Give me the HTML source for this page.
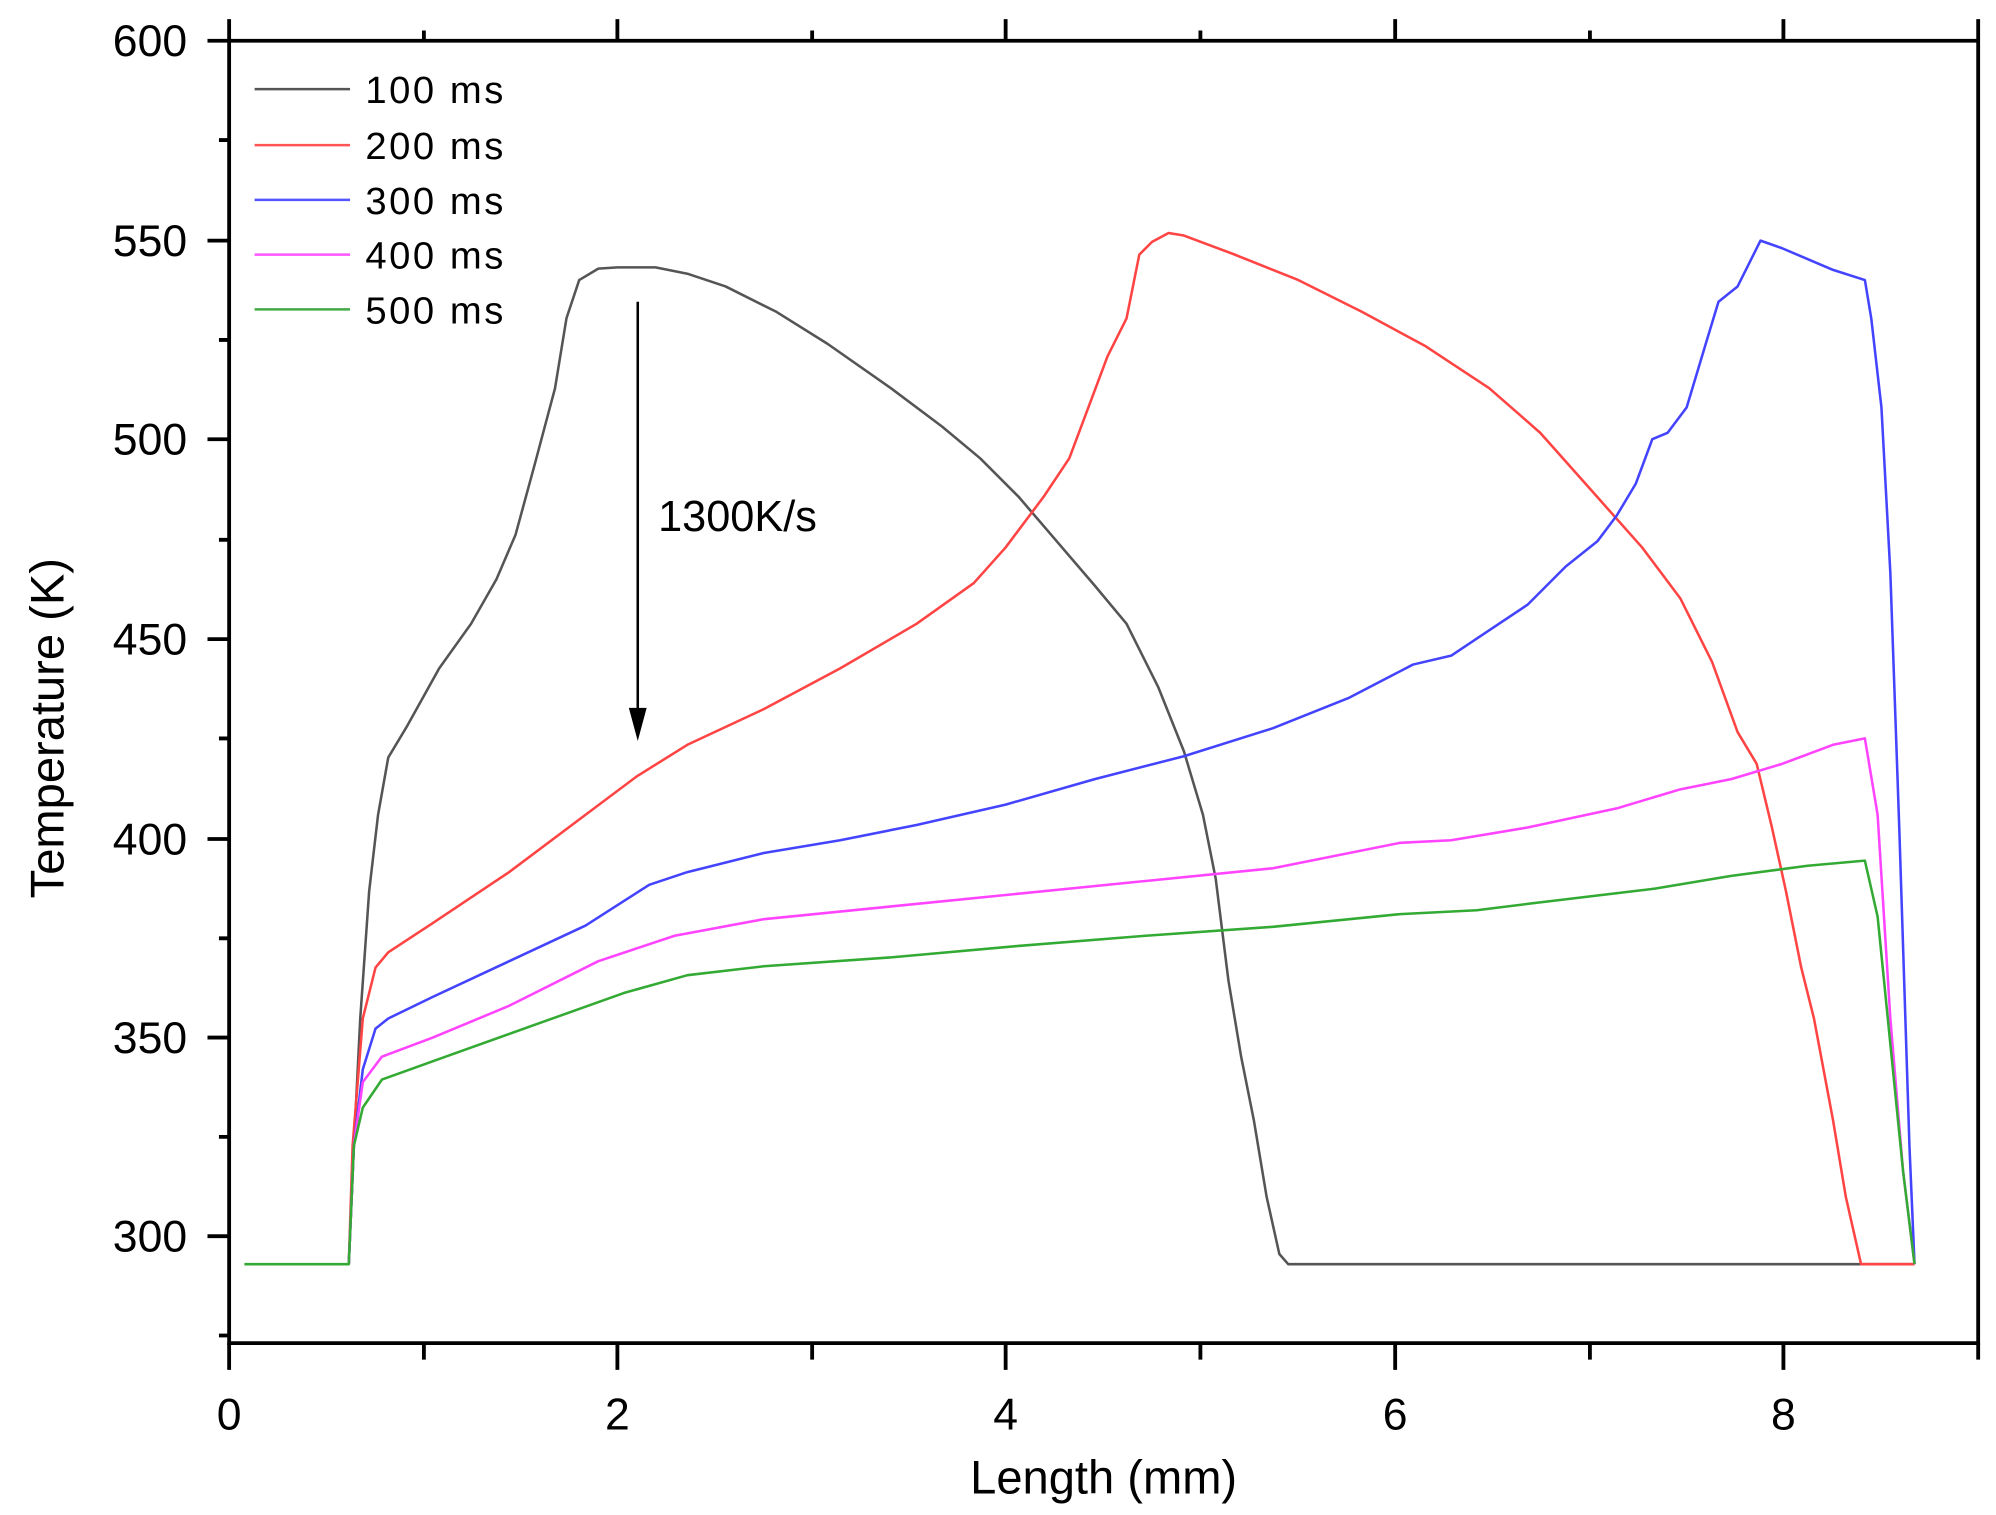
<!DOCTYPE html>
<html><head><style>body{margin:0;background:#fff}svg{display:block}</style></head><body>
<svg width="1996" height="1515" viewBox="0 0 1568 1190" preserveAspectRatio="none" xmlns="http://www.w3.org/2000/svg" font-family="Liberation Sans, sans-serif">
<g stroke="#000" stroke-width="3" fill="none">
<path d="M180,15V1055H1554V15M180,32H1554"/>
<path d="M163,32H180M163,189H180M163,345H180M163,502H180M163,659H180M163,815H180M163,971H180"/>
<path d="M172,110H180M172,267H180M172,424H180M172,580H180M172,737H180M172,893H180M172,1049H180"/>
<path d="M180,1055V1076M485,1055V1076M790,1055V1076M1096,1055V1076M1401,1055V1076M333,1055V1068M638,1055V1068M943,1055V1068M1249,1055V1068M1554,1055V1068"/>
<path d="M485,32V15M790,32V15M1096,32V15M1401,32V15M333,32V24M638,32V24M943,32V24M1249,32V24"/>
</g>
<g font-size="35" fill="#000" text-anchor="end">
<text x="147" y="44">600</text><text x="147" y="201">550</text><text x="147" y="357">500</text><text x="147" y="514">450</text><text x="147" y="671">400</text><text x="147" y="827">350</text><text x="147" y="983">300</text>
</g>
<g font-size="35" fill="#000" text-anchor="middle">
<text x="180" y="1123">0</text><text x="485" y="1123">2</text><text x="790" y="1123">4</text><text x="1096" y="1123">6</text><text x="1401" y="1123">8</text>
<text x="867" y="1173" font-size="37">Length (mm)</text>
<text transform="translate(50,572) rotate(-90)" font-size="37">Temperature (K)</text>
</g>
<text x="517" y="417" font-size="34">1300K/s</text>
<g stroke-width="2" fill="none">
<path stroke="#555" d="M200,70H275"/><path stroke="#f55" d="M200,114H275"/><path stroke="#55f" d="M200,157H275"/><path stroke="#f5f" d="M200,200H275"/><path stroke="#4a4" d="M200,243H275"/>
</g>
<g font-size="30" letter-spacing="2">
<text x="287" y="81">100 ms</text><text x="287" y="125">200 ms</text><text x="287" y="168">300 ms</text><text x="287" y="211">400 ms</text><text x="287" y="254">500 ms</text>
</g>
<g stroke-width="2" fill="none" stroke-linejoin="round">
<polyline stroke="#555" points="274,993 278,900 283,800 290,700 297,640 305,595 320,570 345,525 370,490 390,455 405,420 420,365 436,305 445,250 455,220 470,211 485,210 515,210 540,215 570,225 610,245 650,270 700,305 740,335 770,360 800,390 830,425 860,460 885,490 910,540 930,590 945,640 955,690 965,770 975,830 985,880 995,940 1005,985 1012,993 1504,993"/>
<polyline stroke="#f44" points="274,993 277,900 285,800 295,760 305,748 340,725 400,685 460,640 500,610 540,585 600,557 660,525 720,490 765,458 790,430 820,390 840,360 855,320 870,280 885,250 895,200 905,190 918,183 930,185 970,200 1020,220 1070,245 1120,272 1170,305 1210,340 1250,385 1290,430 1320,470 1345,520 1365,575 1380,600 1392,650 1403,700 1415,760 1425,800 1440,880 1450,940 1462,993 1504,993"/>
<polyline stroke="#44f" points="274,993 278,900 285,840 295,808 305,800 340,783 400,755 460,727 510,695 540,685 600,670 660,660 720,648 790,632 860,612 930,594 1000,572 1060,548 1110,522 1140,515 1170,495 1200,475 1215,460 1230,445 1255,425 1270,405 1285,380 1298,345 1310,340 1325,320 1340,270 1350,237 1365,225 1383,189 1400,195 1440,212 1465,220 1470,250 1478,320 1485,450 1492,650 1500,900 1504,993"/>
<polyline stroke="#f4f" points="274,993 278,900 285,850 300,830 340,815 400,790 470,755 530,735 600,722 700,712 790,703 900,692 1000,682 1100,662 1140,660 1200,650 1270,635 1320,620 1360,612 1400,600 1440,585 1465,580 1475,640 1485,800 1495,920 1504,993"/>
<polyline stroke="#3a3" points="192,993 274,993 278,900 285,870 300,848 350,830 420,805 490,780 540,766 600,759 700,752 800,743 900,735 1000,728 1100,718 1160,715 1200,710 1300,698 1360,688 1420,680 1465,676 1475,720 1485,820 1495,920 1504,993"/>
</g>
<path d="M501,237V570" stroke="#000" stroke-width="2"/>
<path d="M494,556L501,582L508,556Z" fill="#000"/>
</svg>
</body></html>
